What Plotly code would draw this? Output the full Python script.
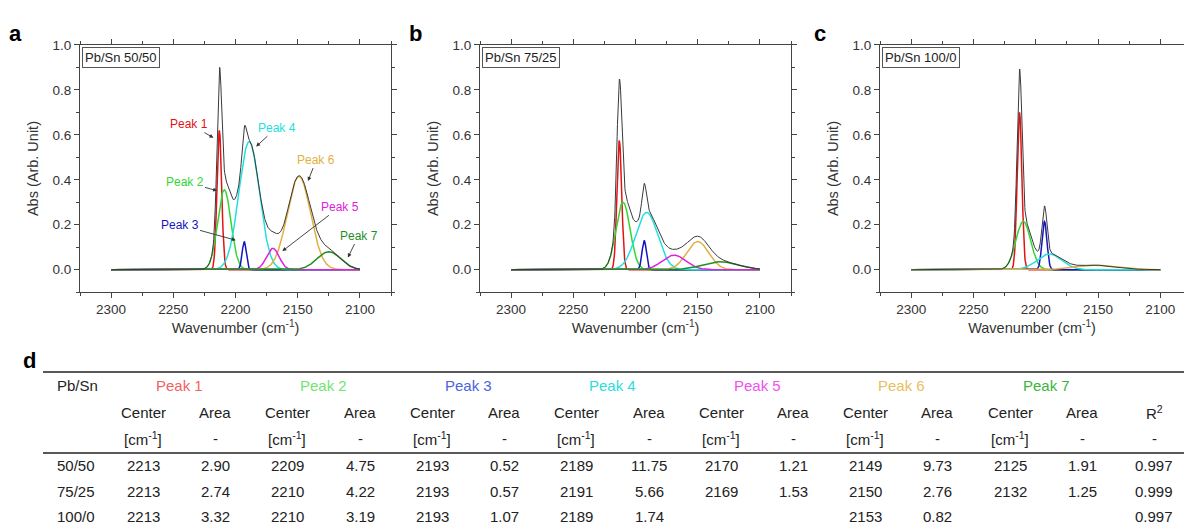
import numpy as np
import plotly.graph_objects as go

W, H = 1184, 526

# fitted peaks (centers and areas from the table, heights)
samples = ["50/50", "75/25", "100/0"]
peak_names = ["Peak 1", "Peak 2", "Peak 3", "Peak 4", "Peak 5", "Peak 6", "Peak 7"]

centers_5050 = [2213, 2209, 2193, 2189, 2170, 2149, 2125]
areas_5050 = [2.90, 4.75, 0.52, 11.75, 1.21, 9.73, 1.91]
heights_5050 = [0.62, 0.355, 0.125, 0.57, 0.095, 0.415, 0.08]

centers_7525 = [2213, 2210, 2193, 2191, 2169, 2150, 2132]
areas_7525 = [2.74, 4.22, 0.57, 5.66, 1.53, 2.76, 1.25]
heights_7525 = [0.575, 0.30, 0.13, 0.255, 0.065, 0.125, 0.035]

centers_1000 = [2213, 2210, 2193, 2189, None, 2153, None]
areas_1000 = [3.32, 3.19, 1.07, 1.74, None, 0.82, None]
heights_1000 = [0.70, 0.215, 0.215, 0.07, None, 0.02, None]

r_squared = [0.997, 0.999, 0.997]

line_colors = ["#e01414", "#33d633", "#1414c0", "#22e0e0", "#e020e0", "#e2b040", "#1f8f1f"]
head_colors = ["#f06262", "#70e470", "#4a62dc", "#2adcdc", "#f050f0", "#e8c060", "#3cb43c"]
draw_order = [0, 1, 2, 3, 5, 4, 6]

FONT = "Liberation Sans, Arial, sans-serif"
AX = "#444444"

# panel a peak labels: (peak index, text x, text y, arrow tip x, arrow tip y)
labels_a = [
    (0, 2237, 0.648, 2217, 0.585),
    (1, 2241, 0.392, 2214, 0.35),
    (2, 2245, 0.200, 2199, 0.13),
    (3, 2167, 0.632, 2184, 0.545),
    (5, 2135, 0.490, 2142, 0.39),
    (4, 2116, 0.280, 2163, 0.08),
    (6, 2101, 0.152, 2110, 0.05),
]

xs = np.arange(2300, 2100 - 0.01, -0.25)


def px(v):
    return v / W


def py(v):
    return 1 - v / H


panels = [
    dict(c=centers_5050, a=areas_5050, h=heights_5050, name="Pb/Sn 50/50",
         x0=80, x1=391, rng=[2325, 2075], letter="a", lx=15),
    dict(c=centers_7525, a=areas_7525, h=heights_7525, name="Pb/Sn 75/25",
         x0=480, x1=791, rng=[2325, 2075], letter="b", lx=415),
    dict(c=centers_1000, a=areas_1000, h=heights_1000, name="Pb/Sn 100/0",
         x0=880, x1=1184, rng=[2325, 2081], letter="c", lx=820),
]

fig = go.Figure()
layout = dict(
    width=W, height=H, margin=dict(l=0, r=0, t=0, b=0),
    paper_bgcolor="white", plot_bgcolor="white", showlegend=False,
    font=dict(family=FONT, color="#333333"),
)
annotations = []
shapes = []

for i, p in enumerate(panels):
    sfx = "" if i == 0 else str(i + 1)
    xa, ya = "x" + sfx, "y" + sfx
    total = np.zeros_like(xs)
    comps = {}
    for k in range(7):
        if p["c"][k] is None:
            continue
        sig = p["a"][k] / (p["h"][k] * np.sqrt(2 * np.pi))
        comps[k] = p["h"][k] * np.exp(-(xs - p["c"][k]) ** 2 / (2 * sig ** 2))
        total += comps[k]
    for k in draw_order:
        if k in comps:
            fig.add_trace(go.Scatter(x=xs, y=comps[k], mode="lines", xaxis=xa, yaxis=ya,
                                     line=dict(color=line_colors[k], width=1.5)))
    fig.add_trace(go.Scatter(x=xs, y=total, mode="lines", xaxis=xa, yaxis=ya,
                             line=dict(color="#3a3a3a", width=1)))

    layout["xaxis" + sfx] = dict(
        domain=[px(p["x0"]), px(p["x1"])], range=p["rng"], anchor=ya,
        showline=True, linecolor=AX, linewidth=1.2, mirror="ticks",
        ticks="outside", ticklen=5, tickwidth=1.2, tickcolor=AX,
        tick0=2100, dtick=50, showgrid=False, zeroline=False,
        minor=dict(ticks="outside", dtick=25, ticklen=3, tickcolor=AX, tickwidth=1),
        tickfont=dict(size=13.5, color="#333333"),
        title=dict(text="Wavenumber (cm<sup>-1</sup>)", font=dict(size=14.5, color="#333333"),
                   standoff=6),
    )
    layout["yaxis" + sfx] = dict(
        domain=[py(289), py(38.5)], range=[-0.1, 1.0], anchor=xa,
        showline=True, linecolor=AX, linewidth=1.2, mirror="ticks" if i < 2 else False,
        ticks="outside", ticklen=5, tickwidth=1.2, tickcolor=AX,
        tick0=0, dtick=0.2, tickformat=".1f", showgrid=False, zeroline=False,
        minor=dict(ticks="outside", dtick=0.1, ticklen=3, tickcolor=AX, tickwidth=1),
        tickfont=dict(size=13.5, color="#333333"),
        title=dict(text="Abs (Arb. Unit)", font=dict(size=14.5, color="#333333"), standoff=10),
    )
    annotations.append(dict(
        text=p["name"], xref=xa + " domain", yref=ya + " domain", x=0.006, y=0.99,
        xanchor="left", yanchor="top", showarrow=False, bordercolor="#555555",
        borderwidth=1, borderpad=2, bgcolor="white", font=dict(size=13, color="#222222"),
    ))
    annotations.append(dict(
        text="<b>%s</b>" % p["letter"], xref="paper", yref="paper", x=px(p["lx"]), y=py(27),
        xanchor="center", yanchor="middle", showarrow=False,
        font=dict(size=22, color="black", family="Liberation Sans, Arial"),
    ))

for k, tx, ty, hx, hy in labels_a:
    annotations.append(dict(
        text=peak_names[k], x=hx, y=hy, ax=tx, ay=ty, xref="x", yref="y", axref="x", ayref="y",
        showarrow=True, arrowhead=2, arrowsize=0.9, arrowwidth=0.9, arrowcolor="#333333",
        standoff=1, font=dict(size=12, color=line_colors[k]),
    ))

# table d
annotations.append(dict(text="<b>d</b>", xref="paper", yref="paper", x=px(21), y=py(373),
                        showarrow=False, font=dict(size=22, color="black")))
shapes.append(dict(type="line", xref="paper", yref="paper", x0=px(43), x1=1, y0=py(370), y1=py(370),
                   line=dict(color="#222222", width=1.5)))
shapes.append(dict(type="line", xref="paper", yref="paper", x0=px(43), x1=1, y0=py(452), y1=py(452),
                   line=dict(color="#222222", width=1.5)))

col_x = [143, 215, 287, 360, 432, 504, 576, 649, 721, 793, 865, 937, 1010, 1082, 1154]
row_y = [384, 411, 437, 465, 491, 516]
TXT = "#222222"


def cell(text, x, y, color=TXT, anchor="center"):
    annotations.append(dict(text=text, xref="paper", yref="paper", x=px(x), y=py(y),
                            xanchor=anchor, yanchor="middle", showarrow=False,
                            font=dict(size=15, color=color)))


cell("Pb/Sn", 55, row_y[0], anchor="left")
for k in range(7):
    cell(peak_names[k], (col_x[2 * k] + col_x[2 * k + 1]) / 2, row_y[0], color=head_colors[k])
    cell("Center", col_x[2 * k], row_y[1])
    cell("Area", col_x[2 * k + 1], row_y[1])
    cell("[cm<sup>-1</sup>]", col_x[2 * k], row_y[2])
    cell("-", col_x[2 * k + 1], row_y[2])
cell("R<sup>2</sup>", col_x[14], row_y[1])
cell("-", col_x[14], row_y[2])

table_rows = [(centers_5050, areas_5050), (centers_7525, areas_7525), (centers_1000, areas_1000)]
for r, (cs, ars) in enumerate(table_rows):
    yy = row_y[3 + r]
    cell(samples[r], 55, yy, anchor="left")
    for k in range(7):
        if cs[k] is not None:
            cell("%d" % cs[k], col_x[2 * k], yy)
            cell("%.2f" % ars[k], col_x[2 * k + 1], yy)
    cell("%.3f" % r_squared[r], col_x[14], yy)

layout["annotations"] = annotations
layout["shapes"] = shapes
fig.update_layout(**layout)

# drop the page's default body margin so the figure sits at the window corner
fig.write_html("out.html", config={"displayModeBar": False},
               post_script="document.body.style.margin='0';document.body.style.overflow='hidden';")
